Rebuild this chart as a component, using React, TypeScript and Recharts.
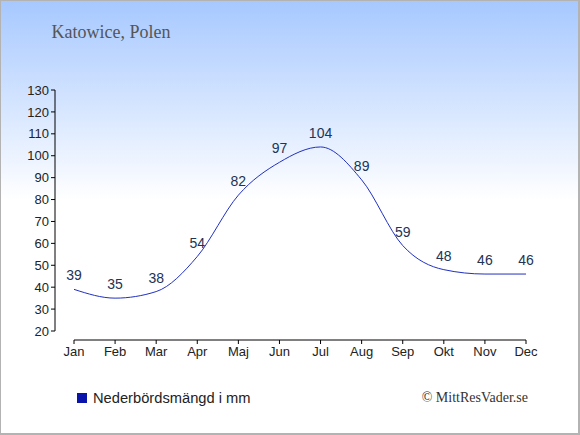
import React from 'react';
import { LineChart, Line, XAxis, YAxis, LabelList, Legend } from 'recharts';

const months = ['Jan', 'Feb', 'Mar', 'Apr', 'Maj', 'Jun', 'Jul', 'Aug', 'Sep', 'Okt', 'Nov', 'Dec'];
const precipitation = [39, 35, 38, 54, 82, 97, 104, 89, 59, 48, 46, 46];
const yTicks = [20, 30, 40, 50, 60, 70, 80, 90, 100, 110, 120, 130];
const titleText = 'Katowice, Polen';
const seriesName = 'Nederbördsmängd i mm';
const creditText = '© MittResVader.se';

const data = months.map((m, i) => ({ month: m, value: precipitation[i] }));

const sans = '"Liberation Sans", Arial, sans-serif';
const serif = '"Liberation Serif", "Times New Roman", serif';

const renderLegend = () => (
  <div
    style={{
      display: 'flex',
      alignItems: 'center',
      fontFamily: sans,
      fontSize: 14.7,
      lineHeight: '16px',
      color: '#222',
      whiteSpace: 'nowrap',
    }}
  >
    <span style={{ width: 10, height: 10, background: '#0a14aa', display: 'inline-block', marginRight: 6 }} />
    <span>{seriesName}</span>
  </div>
);

export default function App() {
  return (
    <div
      style={{
        position: 'absolute',
        left: 0,
        top: 0,
        width: 580,
        height: 435,
        overflow: 'hidden',
        background: 'linear-gradient(to bottom, #a6c8ff 0px, #ffffff 200px, #ffffff 435px)',
      }}
    >
      <LineChart
        width={580}
        height={435}
        data={data}
        margin={{ top: 90, right: 54, bottom: 65, left: 0 }}
        style={{ position: 'absolute', left: 0, top: 0 }}
      >
        <XAxis
          dataKey="month"
          height={30}
          padding={{ left: 19, right: 0 }}
          axisLine={{ stroke: '#000', strokeDasharray: '0 19 1000' }}
          tickLine={{ stroke: '#000' }}
          tickSize={4}
          tickMargin={3}
          interval={0}
          tick={{ fill: '#222', fontSize: 13, fontFamily: sans }}
        />
        <YAxis
          width={55}
          domain={[20, 130]}
          ticks={yTicks}
          interval={0}
          padding={{ top: 0, bottom: 9 }}
          axisLine={{ stroke: '#000', strokeDasharray: '241 1000' }}
          tickLine={{ stroke: '#000' }}
          tickSize={4}
          tickMargin={2}
          tick={{ fill: '#222', fontSize: 13, fontFamily: sans }}
        />
        <Legend
          verticalAlign="middle"
          align="center"
          content={renderLegend}
          wrapperStyle={{ position: 'absolute', left: 77, top: 390, width: 'auto', height: 'auto' }}
        />
        <Line
          type="monotone"
          dataKey="value"
          name={seriesName}
          stroke="#2030c0"
          strokeWidth={1}
          dot={false}
          activeDot={false}
          isAnimationActive={false}
        >
          <LabelList
            dataKey="value"
            position="top"
            offset={9}
            fill="#223355"
            fontSize={14}
            fontFamily={sans}
          />
        </Line>
      </LineChart>
      <svg
        width={580}
        height={435}
        style={{ position: 'absolute', left: 0, top: 0, pointerEvents: 'none' }}
      >
        <text x={51.5} y={38.3} fontFamily={serif} fontSize={18} fill="#555">
          {titleText}
        </text>
        <text x={528} y={402} textAnchor="end" fontFamily={serif} fontSize={14} fill="#333">
          {creditText}
        </text>
      </svg>
      <div
        style={{
          position: 'absolute',
          left: 0,
          top: 0,
          width: 580,
          height: 435,
          boxSizing: 'border-box',
          borderStyle: 'solid',
          borderColor: '#b3b3b3',
          borderWidth: '1px 2px 2px 1px',
          pointerEvents: 'none',
        }}
      />
    </div>
  );
}
